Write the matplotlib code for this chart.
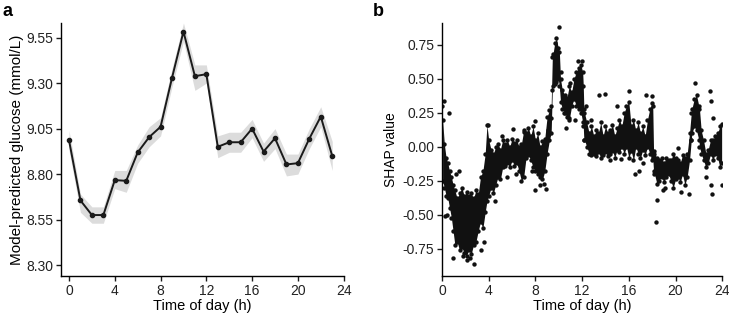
import matplotlib
matplotlib.use('Agg')
import matplotlib.pyplot as plt
import numpy as np

plt.rcParams['font.family'] = ['Liberation Sans', 'DejaVu Sans']
plt.rcParams['font.size'] = 10

# panel a: hourly model-predicted glucose with band
hours = list(range(24))
glucose = [8.985, 8.655, 8.575, 8.575, 8.767, 8.763, 8.919, 9.003, 9.06, 9.329,
           9.583, 9.338, 9.349, 8.95, 8.975, 8.975, 9.05, 8.924, 8.997, 8.853,
           8.86, 8.995, 9.116, 8.90]
glucose_lo = [8.93, 8.59, 8.53, 8.53, 8.72, 8.70, 8.86, 8.95, 9.01, 9.28,
              9.53, 9.26, 9.30, 8.89, 8.92, 8.92, 9.00, 8.87, 8.94, 8.79,
              8.80, 8.94, 9.06, 8.82]
glucose_hi = [9.04, 8.69, 8.62, 8.62, 8.82, 8.82, 8.96, 9.06, 9.11, 9.38,
              9.63, 9.40, 9.40, 9.01, 9.03, 9.03, 9.10, 8.97, 9.05, 8.91,
              8.91, 9.05, 9.17, 8.98]

# panel b: SHAP values, dense core read as (hour, low, high)
band_hour = [0.05, 0.2, 0.35, 0.5, 0.65, 0.8, 0.95, 1.1, 1.3, 1.5, 1.7, 1.9, 2.1, 2.3,
             2.5, 2.7, 2.9, 3.1, 3.3, 3.5, 3.7, 3.85, 4.0, 4.2, 4.4, 4.6, 4.8, 5.0,
             5.2, 5.4, 5.6, 5.8, 6.0, 6.2, 6.4, 6.6, 6.8, 7.0, 7.2, 7.4, 7.6, 7.8,
             8.0, 8.2, 8.4, 8.6, 8.8, 9.0, 9.2, 9.35, 9.45, 9.5, 9.65, 9.8, 9.95,
             10.05, 10.15, 10.3, 10.5, 10.7, 10.9, 11.1, 11.3, 11.5, 11.7, 11.9,
             12.05, 12.1, 12.15, 12.2, 12.4,
             12.6, 12.8, 13.0, 13.2, 13.4, 13.6, 13.8, 14.0, 14.2, 14.4, 14.6,
             14.8, 15.0, 15.2, 15.4, 15.6, 15.8, 16.0, 16.2, 16.4, 16.6, 16.8,
             17.0, 17.2, 17.4, 17.6, 17.8, 18.0, 18.05, 18.12, 18.2, 18.4, 18.6,
             18.8, 19.0, 19.2, 19.4, 19.6, 19.8, 20.0, 20.2, 20.4, 20.6, 20.8,
             21.0, 21.2, 21.35, 21.4, 21.6, 21.8, 22.0, 22.05, 22.2, 22.4, 22.6,
             22.8, 23.0, 23.2, 23.4, 23.6, 23.8, 23.95]
band_lo = [-0.25, -0.30, -0.36, -0.38, -0.45, -0.52, -0.62, -0.72, -0.70, -0.76,
           -0.74, -0.78, -0.80, -0.76, -0.79, -0.72, -0.70, -0.62, -0.55, -0.60,
           -0.48, -0.40, -0.36, -0.30, -0.34, -0.28, -0.22, -0.24, -0.15, -0.14,
           -0.12, -0.15, -0.10, -0.14, -0.12, -0.18, -0.25, -0.22, -0.08, -0.06,
           -0.10, -0.15, -0.18, -0.20, -0.22, -0.24, -0.18, -0.05, 0.05, 0.10,
           0.42, 0.45, 0.46, 0.48, 0.50, 0.45, 0.33, 0.28, 0.25, 0.22, 0.20,
           0.30, 0.35, 0.30, 0.28, 0.25, 0.18, 0.15, 0.05, 0.05, 0.0,
           -0.05, -0.06, -0.05, -0.07, -0.04, -0.08, -0.06, -0.04, -0.07, -0.05,
           -0.03, -0.08, -0.02, -0.04, 0.0, -0.05, 0.0, -0.08, -0.03, -0.10, 0.0,
           -0.05, -0.08, -0.02, -0.06, 0.0, -0.05, -0.10, -0.08, -0.18, -0.20,
           -0.27, -0.25, -0.22, -0.26, -0.22, -0.20, -0.25, -0.30, -0.24, -0.22,
           -0.26, -0.20, -0.28, -0.22, -0.10, 0.05, 0.10, 0.15, 0.12, 0.05, 0.0,
           -0.05, -0.10, -0.15, -0.12, -0.05, -0.10, -0.05, -0.08, -0.15, -0.12]
band_hi = [0.20, 0.02, -0.08, -0.12, -0.18, -0.22, -0.28, -0.32, -0.38, -0.34,
           -0.30, -0.36, -0.33, -0.36, -0.34, -0.38, -0.32, -0.35, -0.22, -0.18,
           -0.05, 0.16, 0.05, -0.02, -0.05, 0.0, 0.02, -0.02, 0.05, 0.02, 0.05,
           0.0, 0.06, 0.03, 0.05, 0.0, 0.02, 0.12, 0.10, 0.14, 0.08, 0.15, 0.05,
           0.10, 0.0, 0.04, 0.06, 0.22, 0.27, 0.30, 0.66, 0.68, 0.76, 0.80, 0.73,
           0.70, 0.50, 0.42, 0.38, 0.36, 0.45, 0.40, 0.50, 0.55, 0.58, 0.60,
           0.55, 0.45, 0.28, 0.25, 0.18,
           0.10, 0.15, 0.08, 0.12, 0.10, 0.18, 0.08, 0.15, 0.10, 0.12, 0.16,
           0.08, 0.14, 0.20, 0.15, 0.25, 0.30, 0.33, 0.15, 0.20, 0.12, 0.18,
           0.10, 0.15, 0.08, 0.20, 0.28, 0.32, 0.30, -0.03, -0.05, -0.08, -0.10,
           -0.08, -0.12, -0.08, -0.10, -0.10, -0.05, -0.08, -0.10, -0.12, -0.06,
           -0.08, -0.05, 0.10, 0.25, 0.28, 0.35, 0.38, 0.30, 0.28, 0.12, 0.05,
           -0.05, -0.02, 0.05, 0.05, 0.08, 0.10, 0.15, 0.17]
# isolated points outside the core
out_hour = [0.63, 0.17, 0.26, 0.97, 1.43, 2.75, 2.12, 3.98, 5.13, 6.05, 6.99, 7.94,
            7.94, 8.91, 9.37, 10.03, 10.43, 10.86, 11.0, 11.63, 11.95, 13.47,
            13.98, 14.96, 16.02, 16.5, 18.31, 18.45, 17.51, 17.97, 21.12, 21.66,
            23.07, 23.24, 23.0, 23.1, 23.98, 22.95, 20.17, 0.02, 1.8, 2.4, 3.3,
            8.4, 8.7, 10.2, 12.3, 16.9, 19.1, 20.5, 22.6, 4.5, 5.6, 6.3, 7.7,
            9.1, 10.6, 11.4, 12.8, 14.4, 15.3, 17.2, 18.9, 21.3, 0.4, 1.2, 3.6]
out_shap = [0.25, 0.34, -0.51, -0.82, -0.18, -0.86, -0.83, 0.16, 0.08, 0.13, 0.11,
            0.19, -0.32, -0.31, 0.21, 0.88, 0.25, 0.21, 0.47, 0.63, 0.63, 0.38,
            0.39, 0.30, 0.41, -0.20, -0.55, -0.39, 0.38, 0.37, -0.35, 0.47, 0.34,
            0.21, -0.28, -0.35, -0.28, 0.41, -0.01, 0.30, -0.80, -0.82, -0.76,
            -0.28, -0.27, 0.55, 0.30, -0.18, -0.30, -0.33, -0.22, -0.40, -0.22,
            -0.20, -0.18, 0.12, 0.14, 0.20, 0.20, -0.10, -0.09, -0.12, -0.32,
            0.05, -0.50, -0.20, -0.70]

fig = plt.figure(figsize=(7.29, 3.17), dpi=100)
ax1 = fig.add_axes([0.0837, 0.1293, 0.3885, 0.798])
ax2 = fig.add_axes([0.6063, 0.1293, 0.3844, 0.798])

ax1.fill_between(hours, glucose_lo, glucose_hi, color='#dcdcdc', lw=0)
ax1.plot(hours, glucose, color='#1a1a1a', lw=1.4, marker='o', ms=3)
ax1.set_xlim(-0.7, 24.05)
ax1.set_ylim(8.24, 9.63)
ax1.set_xticks([0, 4, 8, 12, 16, 20, 24])
ax1.set_yticks([8.30, 8.55, 8.80, 9.05, 9.30, 9.55])
ax1.set_yticklabels(['%.2f' % v for v in [8.30, 8.55, 8.80, 9.05, 9.30, 9.55]])
ax1.set_xlabel('Time of day (h)', labelpad=1, fontsize=10.5)
ax1.set_ylabel('Model-predicted glucose (mmol/L)', labelpad=2, fontsize=11)

ax2.fill_between(band_hour, band_lo, band_hi, color='#111111', lw=0)
ax2.scatter(band_hour + band_hour, band_lo + band_hi, s=10, color='#111111', lw=0)
ax2.scatter(out_hour, out_shap, s=10, color='#111111', lw=0)
ax2.set_xlim(0, 24)
ax2.set_ylim(-0.95, 0.91)
ax2.set_xticks([0, 4, 8, 12, 16, 20, 24])
ax2.set_yticks([-0.75, -0.5, -0.25, 0, 0.25, 0.5, 0.75])
ax2.set_yticklabels(['-0.75', '-0.50', '-0.25', '0.00', '0.25', '0.50', '0.75'])
ax2.set_xlabel('Time of day (h)', labelpad=1, fontsize=10.5)
ax2.set_ylabel('SHAP value', labelpad=3)

for ax in (ax1, ax2):
    ax.spines['top'].set_visible(False)
    ax.spines['right'].set_visible(False)
    ax.spines['left'].set_linewidth(1.0)
    ax.spines['bottom'].set_linewidth(1.0)
    ax.tick_params(length=3.5, width=1.0, colors='#1a1a1a', labelcolor='#222222', pad=2)

fig.text(0.004, 0.965, 'a', fontsize=13, fontweight='bold', va='center')
fig.text(0.511, 0.965, 'b', fontsize=13, fontweight='bold', va='center')

fig.savefig('out.png', dpi=100)
